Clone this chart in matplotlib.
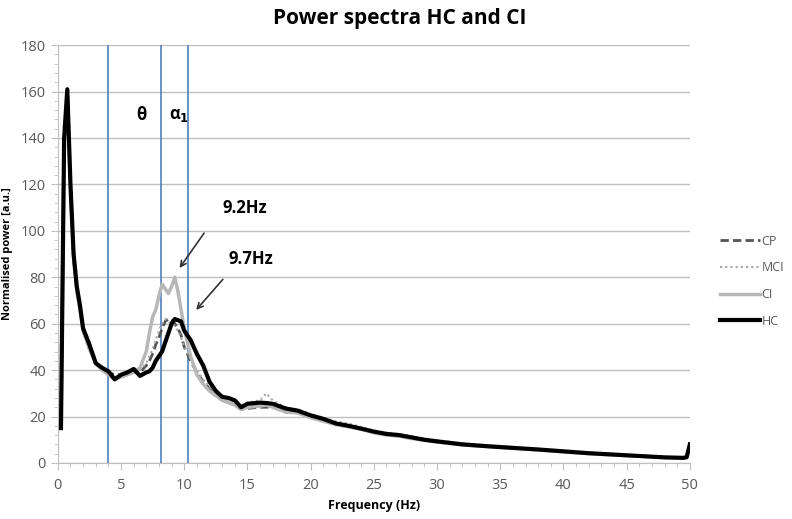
import numpy as np
import matplotlib
matplotlib.use('Agg')
import matplotlib.pyplot as plt

plt.rcParams['font.family'] = ['Open Sans', 'DejaVu Sans']

# frequency grid (Hz)
freq = [0.25, 0.5, 0.75, 1.0, 1.25, 1.5, 1.75, 2.0, 2.5, 3.0, 3.5, 4.0, 4.5, 5.0, 5.5, 6.0,
        6.5, 7.0, 7.25, 7.5, 7.75, 8.0, 8.25, 8.5, 8.75, 9.0, 9.25, 9.5, 9.75, 10.0, 10.5,
        11.0, 11.5, 12.0, 12.5, 13.0, 13.5, 14.0, 14.5, 15.0, 16.0, 16.5, 17.0, 18.0, 19.0,
        20.0, 21.0, 22.0, 23.0, 24.0, 25.0, 26.0, 27.0, 28.0, 29.0, 30.0, 32.0, 34.0, 36.0,
        38.0, 40.0, 42.0, 44.0, 46.0, 48.0, 49.5, 49.75, 50.0]

hc = [15, 140, 161, 120, 90, 76, 68, 58, 51, 43, 41, 39.5, 36, 38, 39, 40.5,
      37.5, 39, 39.5, 41, 44, 46, 48, 52, 56, 60, 62, 61.5, 61, 57, 53,
      47, 42, 35, 31, 28.5, 28, 27, 24, 25.5, 26, 25.8, 25.5, 23.5, 22.5,
      20.5, 19, 17, 16, 14.8, 13.5, 12.5, 12, 11, 10, 9.3, 8, 7.2, 6.5,
      5.8, 5, 4.2, 3.6, 3, 2.4, 2.2, 2.5, 8]

ci = [15, 137, 159, 118, 88, 74, 66, 57, 49, 43, 40, 38, 36, 37, 38, 39,
      41, 48, 56, 63, 66, 72, 77, 75, 73, 76, 80, 74, 66, 58, 46,
      38, 34, 31, 29, 27, 26, 25, 23, 24, 24.5, 25, 24, 22, 21.5,
      19.5, 18, 16.5, 15.5, 14.5, 13, 12, 11.5, 10.5, 9.8, 9, 7.8, 7, 6.3,
      5.6, 4.8, 4, 3.4, 2.9, 2.3, 2.1, 2.3, 7]

cp = [15, 138, 160, 118, 88, 75, 66, 57, 49, 43, 40, 39, 38, 38, 39, 39,
      39, 42, 44, 47, 51, 54, 58, 61, 62, 62, 60, 58, 55, 50, 44,
      39, 35, 32, 29, 27, 26, 25, 23, 23.5, 24, 24, 24, 22, 22,
      20, 18.5, 17, 16, 14.5, 13.2, 12.3, 11.8, 10.8, 9.9, 9.2, 8, 7.1, 6.4,
      5.7, 4.9, 4.1, 3.5, 3, 2.4, 2.2, 2.4, 7.5]

mci = [15, 139, 160, 119, 89, 75, 67, 58, 50, 43, 40, 39, 37, 38, 39, 40,
       40, 43, 46, 49, 53, 57, 60, 62, 61, 60, 59, 57, 54, 50, 45,
       40, 36, 33, 30, 28, 27, 26.5, 25, 26, 27, 30, 27, 24, 23,
       21, 19.5, 18, 17, 15.5, 14, 13, 12.5, 11.5, 10.5, 9.8, 8.5, 7.6, 6.8,
       6.1, 5.3, 4.5, 3.9, 3.3, 2.7, 2.5, 2.8, 7.8]

band_edges = [4.0, 8.2, 10.3]

fig = plt.figure(figsize=(7.92, 5.19), dpi=100)
ax = fig.add_axes([0.073, 0.108, 0.798, 0.805])

for xv in band_edges:
    ax.axvline(xv, color='#4f81bd', lw=1.2, zorder=2)

ax.plot(freq, cp, color='#555555', lw=2, ls=(0, (3, 1.5)), label='CP', zorder=3)
ax.plot(freq, mci, color='#a6a6a6', lw=1.5, ls=(0, (1, 1.5)), label='MCI', zorder=3)
ax.plot(freq, ci, color='#b7b7b7', lw=2.5, label='CI', zorder=3)
ax.plot(freq, hc, color='black', lw=3, label='HC', zorder=4)

ax.set_xlim(0, 50)
ax.set_ylim(0, 180)
ax.set_xticks(np.arange(0, 51, 5))
ax.set_yticks(np.arange(0, 181, 20))
ax.set_xticks(np.arange(0, 51, 1), minor=True)
ax.set_yticks(np.arange(0, 181, 4), minor=True)
ax.grid(axis='y', color='#bfbfbf', lw=1)
ax.set_axisbelow(True)
for s in ['top', 'right']:
    ax.spines[s].set_visible(False)
for s in ['left', 'bottom']:
    ax.spines[s].set_color('#bfbfbf')
ax.tick_params(which='both', color='#bfbfbf', labelcolor='#595959', labelsize=10.5)
ax.tick_params(which='major', length=5)
ax.tick_params(which='minor', length=3)
ax.tick_params(axis='x', pad=6)

ax.set_xlabel('Frequency (Hz)', fontsize=9, fontweight='bold', labelpad=4)
ax.set_ylabel('Normalised power [a.u.]', fontsize=8, fontweight='bold', labelpad=6)
fig.suptitle('Power spectra HC and CI', fontsize=15, fontweight='bold', x=0.505, y=0.985)

ax.text(6.6, 150, 'θ', fontsize=12, fontweight='bold', ha='center', va='center')
ax.text(9.6, 150, r'α$_\mathbf{1}$', fontsize=12, fontweight='bold', ha='center', va='center')

ax.annotate('', xy=(9.5, 83), xytext=(11.7, 100),
            arrowprops=dict(arrowstyle='->', color='#333333', lw=1.2))
ax.text(14.8, 110, '9.2Hz', fontsize=12, fontweight='bold', ha='center', va='center')
ax.annotate('', xy=(10.8, 65), xytext=(13.2, 80),
            arrowprops=dict(arrowstyle='->', color='#333333', lw=1.2))
ax.text(15.3, 88, '9.7Hz', fontsize=12, fontweight='bold', ha='center', va='center')

leg = ax.legend(loc='center left', bbox_to_anchor=(1.03, 0.435), frameon=False,
                fontsize=9, handlelength=3.2, handletextpad=0.1, labelspacing=1.1)
for t in leg.get_texts():
    t.set_color('#595959')

fig.savefig('out.png', dpi=100)
